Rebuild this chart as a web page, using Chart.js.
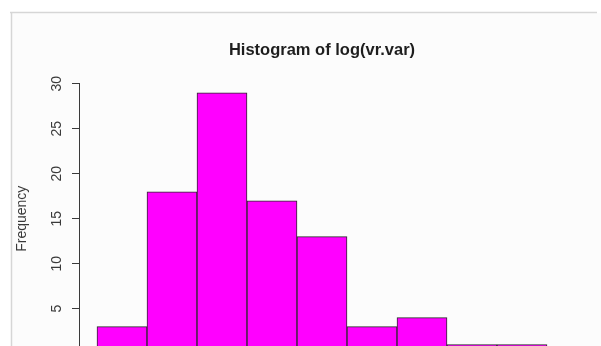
<!DOCTYPE html>
<html>
<head>
<meta charset="utf-8">
<script src="https://cdn.jsdelivr.net/npm/chart.js@4/dist/chart.umd.min.js"></script>
<style>
  html, body { margin: 0; padding: 0; background: #ffffff; overflow: hidden; }
  #wrap { position: absolute; left: 0; top: 0; width: 601px; height: 369px; }
</style>
</head>
<body>
<div id="wrap"><canvas id="hist" width="601" height="369"></canvas></div>
<script>
// Histogram bin breaks for log(vr.var) and the count in each bin
const breaks = [-2, -1, 0, 1, 2, 3, 4, 5, 6, 7];
const counts = [3, 18, 29, 17, 13, 3, 4, 1, 1];
const yTicks = [0, 5, 10, 15, 20, 25, 30];

const mids = counts.map((c, i) => (breaks[i] + breaks[i + 1]) / 2);
const span = breaks[breaks.length - 1] - breaks[0];
const xPad = span * 0.04;

// Page frame: light grey rule along top and left, off-white panel
const framePlugin = {
  id: 'frame',
  beforeDraw(chart) {
    const ctx = chart.ctx;
    ctx.save();
    ctx.fillStyle = '#ffffff';
    ctx.fillRect(0, 0, chart.width, chart.height);
    ctx.fillStyle = '#fcfcfc';
    ctx.fillRect(12, 13, chart.width - 12, chart.height - 13);
    ctx.strokeStyle = '#d6d6d6';
    ctx.lineWidth = 1.5;
    ctx.beginPath();
    ctx.moveTo(10, 12.5);
    ctx.lineTo(597, 12.5);
    ctx.moveTo(11.5, 12);
    ctx.lineTo(11.5, chart.height);
    ctx.stroke();
    ctx.restore();
  }
};

new Chart(document.getElementById('hist'), {
  type: 'bar',
  data: {
    datasets: [{
      data: mids.map((m, i) => ({ x: m, y: counts[i] })),
      backgroundColor: '#ff00ff',
      borderColor: '#2a2a2a',
      borderWidth: 1,
      barPercentage: 1,
      categoryPercentage: 1
    }]
  },
  options: {
    responsive: false,
    animation: false,
    devicePixelRatio: 1,
    layout: { padding: { left: 0, right: 36, top: 30, bottom: 6 } },
    plugins: {
      legend: { display: false },
      tooltip: { enabled: false },
      title: {
        display: true,
        fullSize: false,
        text: 'Histogram of log(vr.var)',
        color: '#1e1e1e',
        font: { family: '"Liberation Sans", Arial, sans-serif', size: 16.5, weight: 'bold' },
        padding: { top: 11, bottom: 23 }
      }
    },
    scales: {
      x: {
        type: 'linear',
        display: false,
        offset: false,
        grid: { offset: false },
        min: breaks[0] - xPad,
        max: breaks[breaks.length - 1] + xPad
      },
      y: {
        type: 'linear',
        position: 'left',
        min: 0,
        max: 30,
        afterBuildTicks(scale) {
          scale.ticks = yTicks.map(v => ({ value: v }));
        },
        afterFit(scale) {
          scale.width = 79;
        },
        border: { display: true, color: '#3a3a3a', width: 1 },
        grid: {
          drawOnChartArea: false,
          drawTicks: true,
          tickLength: 7,
          color: '#3a3a3a',
          lineWidth: 1
        },
        ticks: {
          minRotation: 90,
          maxRotation: 90,
          crossAlign: 'center',
          padding: 7,
          color: '#3a3a3a',
          font: { family: '"Liberation Sans", Arial, sans-serif', size: 14 }
        },
        title: {
          display: true,
          text: 'Frequency',
          color: '#3a3a3a',
          font: { family: '"Liberation Sans", Arial, sans-serif', size: 14 },
          padding: { top: 14, bottom: 0 }
        }
      }
    }
  },
  plugins: [framePlugin]
});
</script>
</body>
</html>
